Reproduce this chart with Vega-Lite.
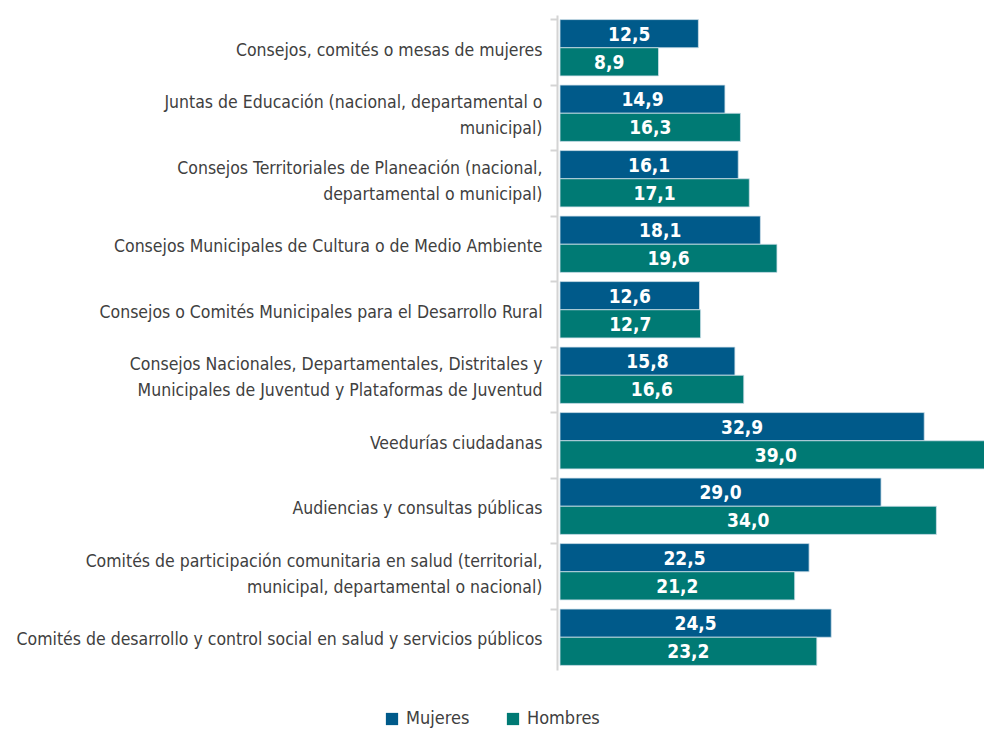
{
  "$schema": "https://vega.github.io/schema/vega-lite/v6.json",
  "width": 424,
  "height": 655,
  "autosize": {"type": "none"},
  "padding": {"left": 560, "top": 15, "right": 0, "bottom": 59},
  "background": "white",
  "config": {
    "view": {"stroke": null},
    "font": "DejaVu Sans Condensed",
    "locale": {"number": {"decimal": ",", "thousands": ".", "grouping": [3], "currency": ["", ""]}}
  },
  "data": {
    "values": [
      {"cat": "Consejos, comités o mesas de mujeres", "serie": "Mujeres", "v": 12.5},
      {"cat": "Consejos, comités o mesas de mujeres", "serie": "Hombres", "v": 8.9},
      {"cat": "Juntas de Educación (nacional, departamental o|municipal)\u00a0\u00a0", "serie": "Mujeres", "v": 14.9},
      {"cat": "Juntas de Educación (nacional, departamental o|municipal)\u00a0\u00a0", "serie": "Hombres", "v": 16.3},
      {"cat": "Consejos Territoriales de Planeación (nacional,|departamental o municipal)", "serie": "Mujeres", "v": 16.1},
      {"cat": "Consejos Territoriales de Planeación (nacional,|departamental o municipal)", "serie": "Hombres", "v": 17.1},
      {"cat": "Consejos Municipales de Cultura o de Medio Ambiente", "serie": "Mujeres", "v": 18.1},
      {"cat": "Consejos Municipales de Cultura o de Medio Ambiente", "serie": "Hombres", "v": 19.6},
      {"cat": "Consejos o Comités Municipales para el Desarrollo Rural\u00a0", "serie": "Mujeres", "v": 12.6},
      {"cat": "Consejos o Comités Municipales para el Desarrollo Rural\u00a0", "serie": "Hombres", "v": 12.7},
      {"cat": "Consejos Nacionales, Departamentales, Distritales y|Municipales de Juventud y Plataformas de Juventud", "serie": "Mujeres", "v": 15.8},
      {"cat": "Consejos Nacionales, Departamentales, Distritales y|Municipales de Juventud y Plataformas de Juventud", "serie": "Hombres", "v": 16.6},
      {"cat": "Veedurías ciudadanas\u00a0\u00a0\u00a0", "serie": "Mujeres", "v": 32.9},
      {"cat": "Veedurías ciudadanas\u00a0\u00a0\u00a0", "serie": "Hombres", "v": 39.0},
      {"cat": "Audiencias y consultas públicas", "serie": "Mujeres", "v": 29.0},
      {"cat": "Audiencias y consultas públicas", "serie": "Hombres", "v": 34.0},
      {"cat": "Comités de participación comunitaria en salud (territorial,|municipal, departamental o nacional)", "serie": "Mujeres", "v": 22.5},
      {"cat": "Comités de participación comunitaria en salud (territorial,|municipal, departamental o nacional)", "serie": "Hombres", "v": 21.2},
      {"cat": "Comités de desarrollo y control social en salud y servicios públicos\u00a0", "serie": "Mujeres", "v": 24.5},
      {"cat": "Comités de desarrollo y control social en salud y servicios públicos\u00a0", "serie": "Hombres", "v": 23.2}
    ]
  },
  "encoding": {
    "y": {
      "field": "cat", "type": "nominal", "sort": null, "title": null,
      "scale": {"paddingInner": 0.14, "paddingOuter": 0.07},
      "axis": {
        "labelExpr": "split(datum.label, '|')",
        "labelFont": "DejaVu Sans Condensed",
        "labelFontSize": 17.5,
        "labelColor": "#404040",
        "labelLineHeight": 26,
        "labelLimit": 600,
        "labelPadding": 8,
        "labelOffset": {"condition": {"test": "indexof(datum.label, '|') >= 0", "value": -10}, "value": 3},
        "domainColor": "#d4d4d4",
        "domainWidth": 2,
        "tickColor": "#d4d4d4",
        "tickWidth": 2,
        "tickSize": 7,
        "bandPosition": 0,
        "offset": 3
      }
    },
    "yOffset": {"field": "serie", "type": "nominal", "sort": ["Mujeres", "Hombres"]}
  },
  "layer": [
    {
      "mark": {"type": "bar", "stroke": "#cfe0ea", "strokeWidth": 0.8},
      "encoding": {
        "x": {"field": "v", "type": "quantitative", "scale": {"domain": [0, 38.3], "nice": false}, "axis": null},
        "color": {
          "field": "serie", "type": "nominal", "sort": ["Mujeres", "Hombres"],
          "scale": {"domain": ["Mujeres", "Hombres"], "range": ["#005a8a", "#007a74"]},
          "legend": {
            "title": null, "orient": "none", "direction": "horizontal",
            "legendX": -177, "legendY": 695,
            "symbolType": "square", "symbolSize": 150, "symbolStrokeWidth": 0,
            "labelFont": "DejaVu Sans Condensed", "labelFontSize": 18, "labelColor": "#404040",
            "columnPadding": 34, "labelOffset": 5
          }
        }
      }
    },
    {
      "mark": {"type": "text", "color": "white", "fontWeight": "bold", "fontSize": 19, "font": "DejaVu Sans Condensed", "align": "center", "baseline": "middle", "dy": 1},
      "encoding": {
        "x": {"field": "v", "type": "quantitative", "scale": {"domain": [0, 76.6], "nice": false}, "axis": null},
        "text": {"field": "v", "type": "quantitative", "format": ".1f"}
      }
    }
  ],
  "resolve": {"scale": {"x": "independent"}}
}
